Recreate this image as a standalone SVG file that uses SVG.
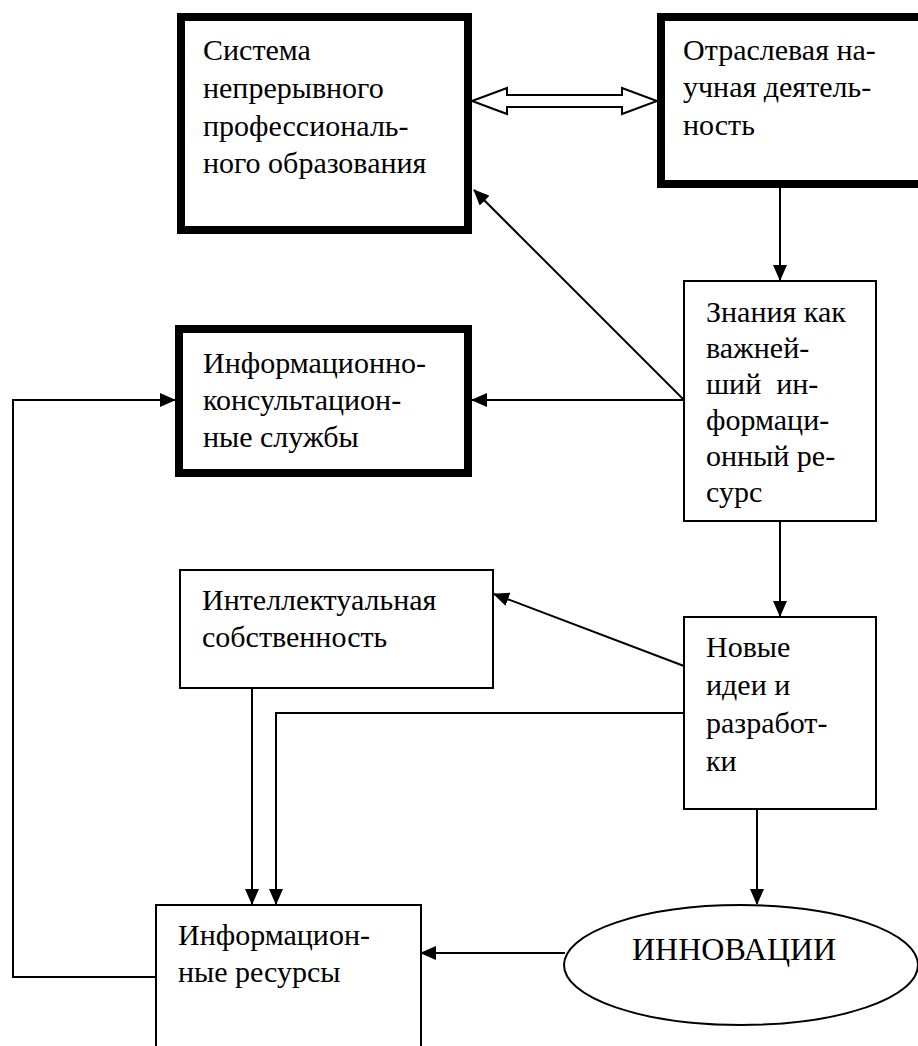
<svg xmlns="http://www.w3.org/2000/svg" width="918" height="1046" viewBox="0 0 918 1046">
<style>
.thick{fill:#fff;stroke:#000;stroke-width:8}
.thin{fill:#fff;stroke:#000;stroke-width:2}
.c{fill:none;stroke:#000;stroke-width:2}
</style>
<defs>
<marker id="ah" markerUnits="userSpaceOnUse" markerWidth="16" markerHeight="14" refX="15" refY="7" orient="auto">
<path d="M0,0 L16,7 L0,14 Z" fill="#000"/>
</marker>
</defs>
<rect width="918" height="1046" fill="#fff"/>
<g id="connectors">
<polygon points="472,101 507,88 507,95 622,95 622,88 657,101 622,114 622,107 507,107 507,114" fill="#fff" stroke="#000" stroke-width="2"/>
<line class="c" x1="780" y1="188" x2="780" y2="280" marker-end="url(#ah)"/>
<line class="c" x1="684" y1="400" x2="474" y2="190" marker-end="url(#ah)"/>
<line class="c" x1="684" y1="400" x2="472" y2="400" marker-end="url(#ah)"/>
<polyline class="c" points="156,977 13,977 13,400 175,400" marker-end="url(#ah)"/>
<line class="c" x1="780" y1="522" x2="780" y2="616" marker-end="url(#ah)"/>
<line class="c" x1="684" y1="666" x2="494" y2="594" marker-end="url(#ah)"/>
<line class="c" x1="252" y1="689" x2="252" y2="904" marker-end="url(#ah)"/>
<polyline class="c" points="684,713 276,713 276,904" marker-end="url(#ah)"/>
<line class="c" x1="757" y1="809" x2="757" y2="904" marker-end="url(#ah)"/>
<line class="c" x1="565" y1="953" x2="421" y2="953" marker-end="url(#ah)"/>
</g>
<g font-family="Liberation Serif, Times New Roman, serif" font-size="30" fill="#000">
<g id="n-sistema">
<rect class="thick" x="181" y="17" width="287" height="213"/>
<text x="203" y="60">Система</text>
<text x="203" y="98">непрерывного</text>
<text x="203" y="136">профессиональ-</text>
<text x="203" y="173">ного образования</text>
</g>
<g id="n-otraslevaya">
<rect class="thick" x="661" y="17" width="265" height="167"/>
<text x="683" y="60">Отраслевая на-</text>
<text x="683" y="97">учная деятель-</text>
<text x="683" y="135">ность</text>
</g>
<g id="n-znaniya">
<rect class="thin" x="684" y="281" width="192" height="240"/>
<text x="706" y="322">Знания как</text>
<text x="706" y="358">важней-</text>
<text x="706" y="394" xml:space="preserve">ший  ин-</text>
<text x="706" y="430">формаци-</text>
<text x="706" y="466">онный ре-</text>
<text x="706" y="502">сурс</text>
</g>
<g id="n-konsult">
<rect class="thick" x="179" y="329" width="289" height="144"/>
<text x="203" y="373">Информационно-</text>
<text x="203" y="410">консультацион-</text>
<text x="203" y="447">ные службы</text>
</g>
<g id="n-intellekt">
<rect class="thin" x="180" y="570" width="313" height="118"/>
<text x="202" y="610">Интеллектуальная</text>
<text x="202" y="647">собственность</text>
</g>
<g id="n-novye">
<rect class="thin" x="684" y="617" width="192" height="192"/>
<text x="706" y="657">Новые</text>
<text x="706" y="695">идеи и</text>
<text x="706" y="733">разработ-</text>
<text x="706" y="771">ки</text>
</g>
<g id="n-resursy">
<rect class="thin" x="156" y="905" width="265" height="150"/>
<text x="178" y="945">Информацион-</text>
<text x="178" y="982">ные ресурсы</text>
</g>
<g id="n-innovacii">
<ellipse class="thin" cx="741" cy="965" rx="177" ry="60"/>
<text x="632" y="960" font-size="32">ИННОВАЦИИ</text>
</g>
</g>
</svg>
